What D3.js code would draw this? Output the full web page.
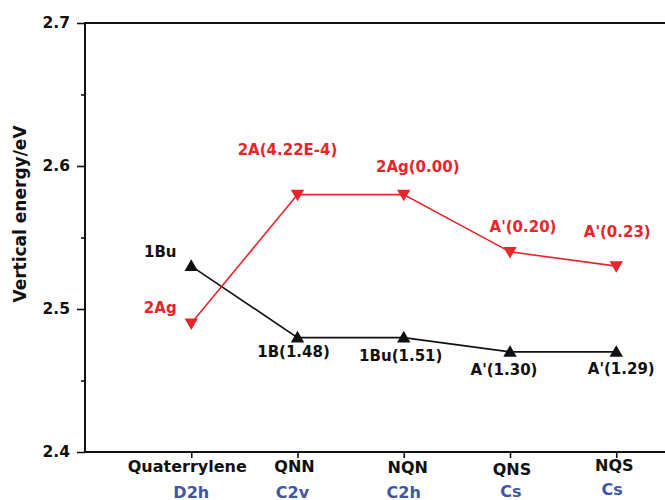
<!DOCTYPE html>
<html>
<head>
<meta charset="utf-8">
<script src="https://cdn.jsdelivr.net/npm/d3@7"></script>
<style>
  html, body { margin: 0; padding: 0; background: #fff; }
  svg { display: block; }
  text { font-family: "DejaVu Sans", "Liberation Sans", Arial, sans-serif; font-weight: bold; }
</style>
</head>
<body>
<svg id="chart" width="665" height="500"></svg>
<script>
// Molecules along the x axis and their point groups
const molecules = ["Quaterrylene", "QNN", "NQN", "QNS", "NQS"];
const pointGroups = ["D2h", "C2v", "C2h", "Cs", "Cs"];

// Vertical excitation energies (eV)
const brightState = [2.53, 2.48, 2.48, 2.47, 2.47];   // 1Bu-like state
const darkState   = [2.49, 2.58, 2.58, 2.54, 2.53];   // 2Ag-like state

// State labels (oscillator strengths in brackets)
const brightLabels = ["1Bu", "1B(1.48)", "1Bu(1.51)", "A'(1.30)", "A'(1.29)"];
const darkLabels   = ["2Ag", "2A(4.22E-4)", "2Ag(0.00)", "A'(0.20)", "A'(0.23)"];

// Y axis ticks
const yMajorTicks = [2.4, 2.5, 2.6, 2.7];
const yMinorTicks = [2.45, 2.55, 2.65];

// Label placement relative to each point (px)
const brightLabelOffsets = [[-31, -9], [-4, 19], [-3, 23], [-6, 23], [5, 22]];
const darkLabelOffsets   = [[-31, -10], [-10, -40], [14, -23], [13, -20], [1, -29]];
const nameOffsets  = [[-4, 20], [-3, 20], [4, 21], [2, 23], [-2, 19]];
const groupOffsets = [[0, 46], [-5, 46], [0, 46], [1, 45], [-4, 43]];

const RED = "#e8252a";
const BLACK = "#111";
const BLUE = "#3d56a6";

const svg = d3.select("#chart");
const plotLeft = 85, plotRight = 665, plotTop = 23, plotBottom = 452;

const x = d3.scaleLinear().domain([-1, 4.5]).range([plotLeft, plotLeft + 5.5 * 106.25]);
const y = d3.scaleLinear().domain([2.4, 2.7]).range([plotBottom, plotTop]);

// Frame lines (left, top, bottom)
const frame = svg.append("g").attr("stroke", BLACK).attr("stroke-width", 2).attr("fill", "none");
frame.append("line").attr("x1", plotLeft).attr("x2", plotLeft).attr("y1", plotTop - 1).attr("y2", plotBottom + 1);
frame.append("line").attr("x1", plotLeft).attr("x2", plotRight).attr("y1", plotTop).attr("y2", plotTop);
frame.append("line").attr("x1", plotLeft).attr("x2", plotRight).attr("y1", plotBottom).attr("y2", plotBottom);

// Y axis with major and minor ticks
const yAxis = d3.axisLeft(y).tickValues(yMajorTicks).tickFormat(d3.format(".1f")).tickSize(8).tickPadding(7);
const gy = svg.append("g").attr("transform", `translate(${plotLeft},0)`).call(yAxis);
gy.select(".domain").remove();
gy.selectAll(".tick line").attr("stroke", BLACK).attr("stroke-width", 1.6);
gy.selectAll(".tick text").attr("font-size", 15.5).attr("fill", BLACK)
  .attr("font-family", "'DejaVu Sans', sans-serif").attr("font-weight", "bold");

const yMinor = d3.axisLeft(y).tickValues(yMinorTicks).tickFormat("").tickSize(4);
const gym = svg.append("g").attr("transform", `translate(${plotLeft},0)`).call(yMinor);
gym.select(".domain").remove();
gym.selectAll(".tick line").attr("stroke", BLACK).attr("stroke-width", 1.6);

// X axis ticks
const xAxis = d3.axisBottom(x).tickValues(d3.range(molecules.length)).tickFormat("").tickSize(6);
const gx = svg.append("g").attr("transform", `translate(0,${plotBottom})`).call(xAxis);
gx.select(".domain").remove();
gx.selectAll(".tick line").attr("stroke", BLACK).attr("stroke-width", 1.6);

// Molecule names and point groups
svg.append("g").selectAll("text").data(molecules).join("text")
  .attr("x", (d, i) => x(i) + nameOffsets[i][0])
  .attr("y", (d, i) => plotBottom + nameOffsets[i][1])
  .attr("text-anchor", "middle").attr("font-size", 16).attr("fill", BLACK)
  .text(d => d);

svg.append("g").selectAll("text").data(pointGroups).join("text")
  .attr("x", (d, i) => x(i) + groupOffsets[i][0])
  .attr("y", (d, i) => plotBottom + groupOffsets[i][1])
  .attr("text-anchor", "middle").attr("font-size", 16).attr("fill", BLUE)
  .text(d => d);

// Y axis title
svg.append("text")
  .attr("transform", `translate(26,214) rotate(-90)`)
  .attr("text-anchor", "middle").attr("font-size", 17).attr("fill", BLACK)
  .text("Vertical energy/eV");

// Series
const line = d3.line().x((d, i) => x(i)).y(d => y(d));
const tri = d3.symbol().type(d3.symbolTriangle).size(78);

function drawSeries(values, labels, offsets, color, pointDown) {
  const g = svg.append("g");
  g.append("path").datum(values).attr("d", line)
    .attr("fill", "none").attr("stroke", color).attr("stroke-width", 1.6);
  g.selectAll("path.mark").data(values).join("path").attr("class", "mark")
    .attr("d", tri)
    .attr("transform", (d, i) => `translate(${x(i)},${y(d) + (pointDown ? -1 : 1)}) rotate(${pointDown ? 180 : 0})`)
    .attr("fill", color);
  g.selectAll("text").data(labels).join("text")
    .attr("x", (d, i) => x(i) + offsets[i][0])
    .attr("y", (d, i) => y(values[i]) + offsets[i][1])
    .attr("text-anchor", "middle").attr("font-size", 15).attr("fill", color)
    .text(d => d);
}

drawSeries(brightState, brightLabels, brightLabelOffsets, BLACK, false);
drawSeries(darkState, darkLabels, darkLabelOffsets, RED, true);
</script>
</body>
</html>
